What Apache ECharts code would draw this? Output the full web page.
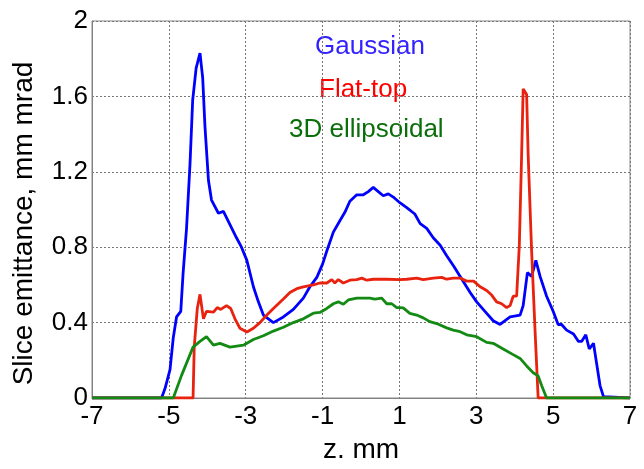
<!DOCTYPE html>
<html>
<head>
<meta charset="utf-8">
<script src="https://cdn.jsdelivr.net/npm/echarts@6/dist/echarts.min.js"></script>
<style>
  html, body { margin: 0; padding: 0; background: #fff; }
  #chart { width: 644px; height: 469px; }
</style>
</head>
<body>
<div id="chart"></div>
<script>
// slice positions (z, mm) and emittance values (mm mrad)
const gaussZ = [-7, -5.19, -5.10, -4.97, -4.885, -4.80, -4.69, -4.63, -4.54, -4.45, -4.38, -4.29, -4.19, -4.12, -4.06, -3.97, -3.89, -3.71, -3.58, -3.41, -3.24, -3.11, -2.97, -2.80, -2.67, -2.54, -2.28, -2.02, -1.76, -1.50, -1.33, -1.15, -1.0, -0.89, -0.72, -0.55, -0.42, -0.29, -0.11, 0.06, 0.19, 0.32, 0.45, 0.58, 0.71, 0.84, 1.01, 1.19, 1.40, 1.54, 1.71, 1.88, 2.06, 2.23, 2.41, 2.58, 2.84, 3.01, 3.18, 3.44, 3.62, 3.88, 4.14, 4.22, 4.33, 4.44, 4.55, 4.66, 4.83, 5.00, 5.13, 5.22, 5.35, 5.53, 5.66, 5.74, 5.85, 5.94, 6.05, 6.13, 6.22, 6.31, 6.35, 7];
const gaussV = [0, 0, 0.05, 0.15, 0.32, 0.43, 0.46, 0.66, 0.90, 1.24, 1.58, 1.75, 1.83, 1.70, 1.44, 1.155, 1.05, 0.98, 0.99, 0.92, 0.85, 0.80, 0.73, 0.59, 0.51, 0.44, 0.40, 0.43, 0.47, 0.53, 0.59, 0.64, 0.71, 0.78, 0.88, 0.94, 0.985, 1.044, 1.078, 1.078, 1.095, 1.117, 1.095, 1.073, 1.083, 1.066, 1.036, 1.01, 0.976, 0.925, 0.90, 0.85, 0.81, 0.755, 0.70, 0.645, 0.56, 0.51, 0.47, 0.41, 0.39, 0.43, 0.44, 0.49, 0.665, 0.645, 0.73, 0.645, 0.54, 0.46, 0.39, 0.39, 0.36, 0.34, 0.30, 0.30, 0.335, 0.26, 0.29, 0.185, 0.066, 0.007, 0, 0];

const flatZ = [-7, -4.37, -4.34, -4.26, -4.19, -4.10, -4.02, -3.84, -3.74, -3.65, -3.50, -3.39, -3.28, -3.15, -2.97, -2.80, -2.63, -2.45, -2.28, -2.02, -1.85, -1.67, -1.50, -1.24, -1.07, -0.89, -0.76, -0.68, -0.59, -0.46, -0.29, -0.11, 0.02, 0.15, 0.32, 0.67, 1.01, 1.19, 1.45, 1.62, 1.88, 2.10, 2.23, 2.40, 2.58, 2.75, 2.93, 3.10, 3.27, 3.40, 3.53, 3.66, 3.79, 3.88, 3.96, 4.05, 4.12, 4.18, 4.22, 4.31, 4.35, 4.44, 4.53, 4.61, 7];
const flatV = [0, 0, 0.27, 0.475, 0.55, 0.42, 0.46, 0.455, 0.48, 0.47, 0.49, 0.475, 0.42, 0.37, 0.35, 0.37, 0.40, 0.44, 0.475, 0.525, 0.56, 0.58, 0.59, 0.60, 0.61, 0.61, 0.628, 0.61, 0.628, 0.61, 0.625, 0.628, 0.636, 0.625, 0.63, 0.63, 0.628, 0.63, 0.636, 0.628, 0.636, 0.64, 0.63, 0.636, 0.636, 0.62, 0.62, 0.59, 0.57, 0.546, 0.51, 0.50, 0.48, 0.49, 0.54, 0.54, 0.81, 1.29, 1.64, 1.61, 1.29, 0.78, 0.355, 0, 0];

const ellZ = [-7, -4.885, -4.67, -4.37, -4.19, -4.02, -3.84, -3.67, -3.41, -3.06, -2.80, -2.54, -2.28, -2.02, -1.76, -1.50, -1.24, -1.07, -0.89, -0.72, -0.59, -0.46, -0.33, -0.11, 0.06, 0.23, 0.36, 0.54, 0.67, 0.80, 0.93, 1.10, 1.27, 1.45, 1.62, 1.79, 1.97, 2.23, 2.40, 2.58, 2.75, 3.01, 3.27, 3.44, 3.70, 3.96, 4.14, 4.31, 4.48, 4.61, 4.70, 4.83, 7];
const ellV = [0, 0, 0.12, 0.27, 0.30, 0.325, 0.28, 0.29, 0.27, 0.28, 0.31, 0.33, 0.355, 0.375, 0.40, 0.42, 0.45, 0.454, 0.475, 0.50, 0.51, 0.497, 0.52, 0.53, 0.53, 0.53, 0.525, 0.53, 0.50, 0.50, 0.48, 0.478, 0.449, 0.44, 0.425, 0.405, 0.395, 0.372, 0.36, 0.352, 0.335, 0.325, 0.295, 0.29, 0.26, 0.23, 0.21, 0.17, 0.134, 0.117, 0.066, 0, 0];

const names = ['Gaussian', 'Flat-top', '3D ellipsoidal'];

const font = '"Liberation Sans", Arial, sans-serif';
const pairs = (xs, ys) => xs.map((x, i) => [x, ys[i]]);

const chart = echarts.init(document.getElementById('chart'));

function line(name, xs, ys, color) {
  return {
    name: name,
    type: 'line',
    data: pairs(xs, ys),
    showSymbol: false,
    lineStyle: { color: color, width: 2.8 },
    itemStyle: { color: color }
  };
}

chart.setOption({
  animation: false,
  backgroundColor: '#fff',
  grid: {
    left: 92, right: 14, top: 21, bottom: 56,
    show: true, borderColor: '#8a8a8a', borderWidth: 1
  },
  xAxis: {
    type: 'value',
    min: -7, max: 7, interval: 2,
    name: 'z. mm',
    nameLocation: 'middle',
    nameGap: 38,
    nameTextStyle: { fontFamily: font, fontSize: 28, color: '#000' },
    axisLine: { onZero: false, lineStyle: { color: '#808080' } },
    axisTick: { show: false },
    axisLabel: { fontFamily: font, fontSize: 26, color: '#000', margin: 6 },
    splitLine: { show: true, lineStyle: { color: '#777', type: [2, 2], width: 1 } }
  },
  yAxis: {
    type: 'value',
    min: 0, max: 2, interval: 0.4,
    name: 'Slice emittance, mm mrad',
    nameLocation: 'middle',
    nameGap: 54,
    nameTextStyle: { fontFamily: font, fontSize: 28, color: '#000', padding: [0, 28, 0, 0] },
    axisLine: { show: true, onZero: false, lineStyle: { color: '#808080' } },
    axisTick: { show: false },
    axisLabel: { fontFamily: font, fontSize: 26, color: '#000', margin: 4 },
    splitLine: { show: true, lineStyle: { color: '#777', type: [2, 2], width: 1 } }
  },
  graphic: [
    { type: 'text', left: 315, top: 34, style: { text: names[0], fill: '#3322ff', font: '26px ' + font } },
    { type: 'text', left: 319, top: 77, style: { text: names[1], fill: '#ff0000', font: '26px ' + font } },
    { type: 'text', left: 289, top: 117, style: { text: names[2], fill: '#0a6e0a', font: '26px ' + font } }
  ],
  series: [
    line(names[0], gaussZ, gaussV, '#0000ff'),
    line(names[1], flatZ, flatV, '#e8220e'),
    line(names[2], ellZ, ellV, '#138a13')
  ]
});
</script>
</body>
</html>
